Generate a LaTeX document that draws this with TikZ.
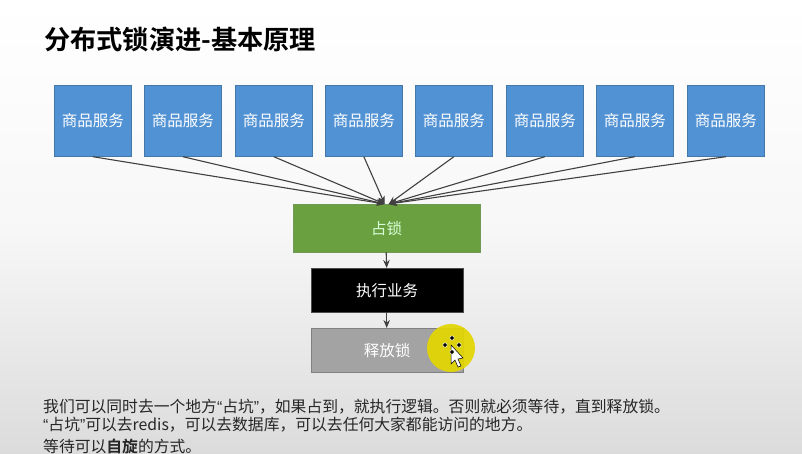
\documentclass[tikz,border=0pt]{standalone}
\usepackage{fontspec}
\setmainfont{Liberation Sans}
\newfontfamily\cjk{Noto Sans CJK SC}[BoldFont={Noto Sans CJK SC Bold}]
\newfontfamily\lat{Liberation Sans}
\definecolor{svc}{HTML}{5192D4}
\definecolor{svcb}{HTML}{41719C}
\definecolor{grn}{HTML}{6AA03F}
\definecolor{grnb}{HTML}{6F9A55}
\definecolor{gry}{HTML}{A3A3A3}
\definecolor{gryb}{HTML}{808080}
\definecolor{ylw}{HTML}{E2D600}
\definecolor{link}{HTML}{404040}
\usetikzlibrary{arrows.meta}
\tikzset{
  x=1pt,y=-1pt,
  flow/.style={draw,inner sep=0pt,font=\cjk\fontsize{15.5}{15.5}\selectfont,text=white,anchor=north west},
  svcbox/.style={flow,fill=svc,draw=svcb!80!svc,line width=.7pt,minimum width=77pt,minimum height=71pt},
  linkline/.style={draw=link,line width=1.1pt,-{Stealth[length=8pt,width=6.5pt]}},
  body/.style={anchor=west,inner sep=0pt,text=black!85,font=\cjk\fontsize{15.8}{15.8}\selectfont},
}
\begin{document}
\begin{tikzpicture}
\useasboundingbox (0,0) rectangle (802,454);
\shade[top color=white,bottom color=white!86!black,middle color=white!97!black,shading angle=0] (0,0) rectangle (802,454);
\node[anchor=west,inner sep=0pt,font=\cjk\bfseries\fontsize{26.2}{26}\selectfont] (title) at (44,39) {分布式锁演进-基本原理};
\foreach \n/\xx in {1/54,2/144,3/235,4/325,5/415,6/506,7/596,8/687}
  \node[svcbox] (s\n) at (\xx,85) {商品服务};
\node[flow,fill=grn,draw=grnb,minimum width=187pt,minimum height=48pt,text=white!85!green] (lock) at (293,204) {占锁};
\node[flow,fill=black,draw=black!70,minimum width=152pt,minimum height=44pt] (biz) at (311,268) {执行业务};
\node[flow,fill=gry,draw=gryb,minimum width=152pt,minimum height=44pt] (rel) at (311,328) {释放锁};
\foreach \n in {1,2,3,4}
  \draw[linkline] (s\n.south) -- ([xshift=-2pt]lock.north);
\foreach \n in {5,6,7,8}
  \draw[linkline] (s\n.south) -- ([xshift=2pt]lock.north);
\draw[linkline] ([xshift=-.5pt]lock.south) -- ([xshift=-.5pt]biz.north);
\draw[linkline] ([xshift=-.5pt]biz.south) -- ([xshift=-.5pt]rel.north);
\fill[ylw,opacity=.92] (451,348) circle (24);
\node[body] (l1) at (43,407) {我们可以同时去一个地方{\lat “}占坑{\lat ”}，如果占到，就执行逻辑。否则就必须等待，直到释放锁。};
\node[body] (l2) at (43,425) {{\lat “}占坑{\lat ”}可以去redis，可以去数据库，可以去任何大家都能访问的地方。};
\node[body] (l3) at (43,446) {等待可以{\bfseries 自旋}的方式。};
% cursor
\fill[white,draw=black,line width=.5pt] (451,345) -- (451,364) -- (455,360) -- (458,367) -- (461,366) -- (458,359) -- (463,358) -- cycle;
\foreach \a/\b in {452/338,452/352,445/345,459/345}
  \fill[black,draw=white!85!yellow,line width=.5pt] (\a,\b) circle (2.2);
\end{tikzpicture}
\end{document}
